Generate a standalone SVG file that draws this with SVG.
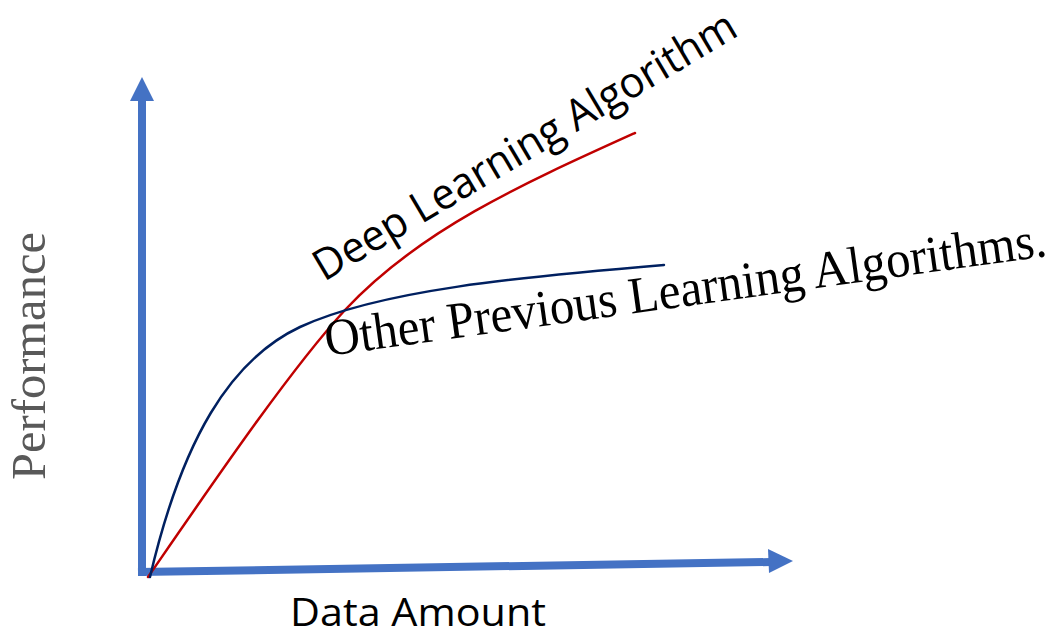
<svg xmlns="http://www.w3.org/2000/svg" width="1064" height="633" viewBox="0 0 1064 633">
  <style>
    .axis { stroke: #4472C4; stroke-width: 8; fill: none; }
    .head { fill: #4472C4; }
    .curve { fill: none; stroke-width: 2.5; stroke-linecap: round; }
    .sans { font-family: "Open Sans", "Liberation Sans", sans-serif; fill: #000; }
    .serif { font-family: "Liberation Serif", "DejaVu Serif", serif; }
  </style>
  <rect width="1064" height="633" fill="#fff"/>

  <!-- axes -->
  <g id="axes">
    <line class="axis" x1="142" y1="576" x2="142" y2="98"/>
    <polygon class="head" points="142,77 130,101 154,101"/>
    <line class="axis" x1="138" y1="572" x2="771" y2="562"/>
    <polygon class="head" points="793,561 768,549 769,573"/>
  </g>

  <!-- performance curves -->
  <g id="curves">
    <path id="deep-curve" class="curve" stroke="#C00000" d="M148,577 C215,480 290,370 345,310 C420,230 520,185 635,133"/>
    <path id="other-curve" class="curve" stroke="#002060" d="M150,577 C182,440 230,360 300,327 C380,290 520,277 664,265"/>
  </g>

  <!-- labels -->
  <g id="label-deep">
    <text class="sans" font-size="43" textLength="484" lengthAdjust="spacingAndGlyphs" transform="translate(324,282) rotate(-30.7)">Deep Learning Algorithm</text>
  </g>
  <g id="label-other">
    <text class="serif" fill="#000" font-size="52" textLength="728" lengthAdjust="spacingAndGlyphs" transform="translate(327,356) rotate(-7.9)">Other Previous Learning Algorithms.</text>
  </g>
  <g id="label-y">
    <text class="serif" fill="#595959" font-size="48" textLength="248" lengthAdjust="spacingAndGlyphs" transform="translate(45,480) rotate(-90)">Performance</text>
  </g>
  <g id="label-x">
    <text class="sans" font-size="38" x="290" y="626" textLength="256" lengthAdjust="spacingAndGlyphs">Data Amount</text>
  </g>
</svg>
